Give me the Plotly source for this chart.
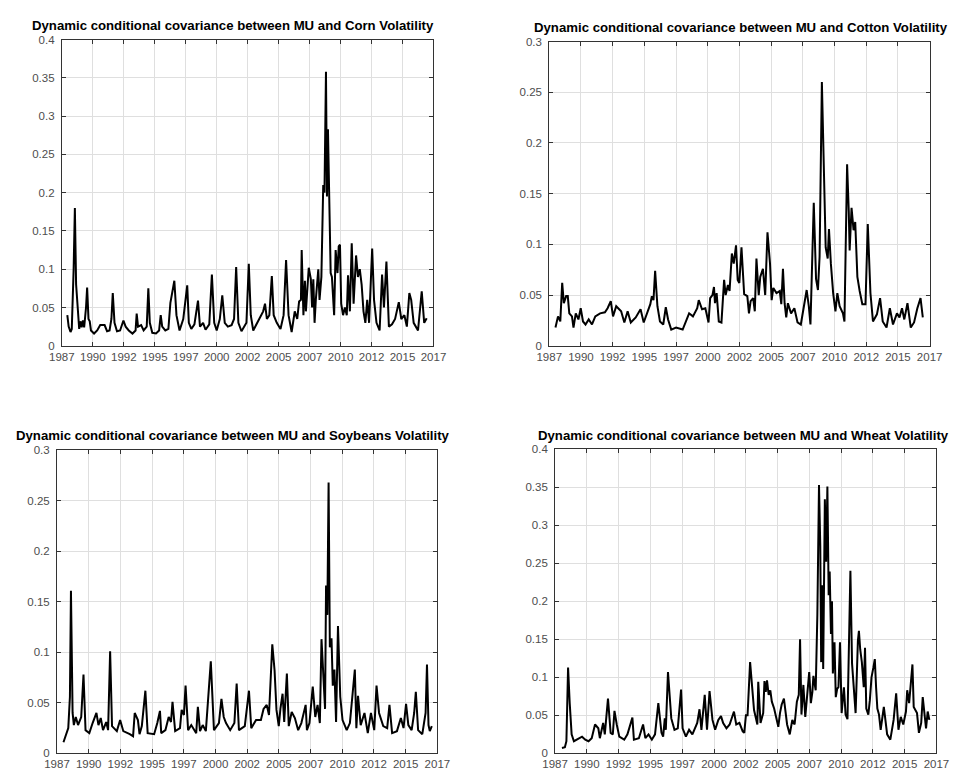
import plotly.graph_objects as go

# ---------------- data (decimal years, covariance values) ----------------
corn_t = [1987.44, 1987.55, 1987.70, 1987.80, 1987.95, 1988.05, 1988.15, 1988.30, 1988.40, 1988.50,
          1988.60, 1988.70, 1988.80, 1988.95, 1989.04, 1989.15, 1989.25, 1989.35, 1989.60, 1989.85,
          1990.10, 1990.45, 1990.65, 1990.85, 1991.00, 1991.11, 1991.25, 1991.45, 1991.70, 1991.97,
          1992.15, 1992.40, 1992.70, 1992.95, 1993.04, 1993.15, 1993.40, 1993.60, 1993.85, 1993.98,
          1994.10, 1994.30, 1994.60, 1994.85, 1994.98, 1995.10, 1995.35, 1995.60, 1995.76, 1996.08,
          1996.25, 1996.50, 1996.80, 1997.12, 1997.25, 1997.45, 1997.70, 1997.99, 1998.15, 1998.40,
          1998.60, 1998.90, 1999.11, 1999.30, 1999.50, 1999.75, 1999.95, 2000.15, 2000.40, 2000.70,
          2000.90, 2001.07, 2001.25, 2001.50, 2001.90, 2002.09, 2002.25, 2002.45, 2002.70, 2002.95,
          2003.25, 2003.40, 2003.55, 2003.75, 2003.95, 2004.10, 2004.35, 2004.65, 2004.90, 2005.10,
          2005.30, 2005.55, 2005.80, 2006.00, 2006.15, 2006.30, 2006.36, 2006.50, 2006.62, 2006.70,
          2006.85, 2006.93, 2007.10, 2007.20, 2007.30, 2007.40, 2007.50, 2007.70, 2007.80, 2007.95,
          2008.10, 2008.20, 2008.32, 2008.40, 2008.48, 2008.60, 2008.70, 2008.80, 2008.98, 2009.10,
          2009.25, 2009.35, 2009.45, 2009.55, 2009.70, 2009.85, 2010.00, 2010.10, 2010.25, 2010.40,
          2010.55, 2010.75, 2010.90, 2011.05, 2011.20, 2011.35, 2011.50, 2011.65, 2011.80, 2012.05,
          2012.20, 2012.40, 2012.65, 2012.85, 2013.00, 2013.20, 2013.40, 2013.65, 2013.90, 2014.20,
          2014.40, 2014.65, 2014.85, 2015.05, 2015.20, 2015.40, 2015.75, 2016.05, 2016.25, 2016.45]
corn_v = [0.040, 0.025, 0.018, 0.022, 0.100, 0.180, 0.080, 0.035, 0.022, 0.032,
          0.024, 0.033, 0.024, 0.050, 0.076, 0.035, 0.032, 0.020, 0.016, 0.020,
          0.027, 0.027, 0.019, 0.020, 0.035, 0.069, 0.030, 0.019, 0.020, 0.033,
          0.025, 0.020, 0.016, 0.020, 0.042, 0.025, 0.027, 0.020, 0.025, 0.075,
          0.030, 0.017, 0.016, 0.020, 0.040, 0.025, 0.020, 0.022, 0.056, 0.085,
          0.040, 0.020, 0.035, 0.079, 0.030, 0.022, 0.028, 0.059, 0.025, 0.030,
          0.021, 0.028, 0.093, 0.030, 0.020, 0.035, 0.066, 0.030, 0.025, 0.027,
          0.035, 0.103, 0.030, 0.019, 0.030, 0.107, 0.040, 0.020, 0.028, 0.035,
          0.045, 0.055, 0.035, 0.040, 0.091, 0.040, 0.030, 0.022, 0.040, 0.112,
          0.040, 0.018, 0.045, 0.035, 0.058, 0.060, 0.125, 0.040, 0.085, 0.045,
          0.095, 0.102, 0.087, 0.050, 0.087, 0.030, 0.060, 0.100, 0.060, 0.090,
          0.210, 0.200, 0.358, 0.195, 0.283, 0.150, 0.095, 0.090, 0.040, 0.125,
          0.095, 0.130, 0.132, 0.055, 0.040, 0.050, 0.040, 0.092, 0.045, 0.134,
          0.055, 0.118, 0.090, 0.100, 0.080, 0.045, 0.030, 0.060, 0.030, 0.127,
          0.060, 0.030, 0.020, 0.093, 0.050, 0.110, 0.025, 0.028, 0.035, 0.057,
          0.035, 0.040, 0.025, 0.069, 0.060, 0.030, 0.020, 0.071, 0.030, 0.036]

cotton_t = [1987.49, 1987.69, 1987.87, 1988.02, 1988.15, 1988.33, 1988.46, 1988.58, 1988.79, 1988.91,
            1989.09, 1989.30, 1989.48, 1989.66, 1989.86, 1990.11, 1990.37, 1990.63, 1991.01, 1991.39,
            1991.60, 1991.85, 1992.03, 1992.28, 1992.67, 1992.92, 1993.18, 1993.43, 1993.82, 1994.20,
            1994.45, 1994.97, 1995.09, 1995.22, 1995.35, 1995.53, 1995.73, 1995.99, 1996.19, 1996.37,
            1996.62, 1997.00, 1997.52, 1997.77, 1998.03, 1998.33, 1998.67, 1998.79, 1999.05, 1999.31,
            1999.56, 1999.69, 1999.87, 1999.99, 2000.07, 2000.20, 2000.37, 2000.58, 2000.79, 2000.91,
            2001.09, 2001.22, 2001.40, 2001.55, 2001.73, 2001.86, 2001.99, 2002.16, 2002.37, 2002.62,
            2002.75, 2002.88, 2003.08, 2003.21, 2003.34, 2003.52, 2003.64, 2003.85, 2004.03, 2004.21,
            2004.41, 2004.54, 2004.67, 2004.92, 2005.18, 2005.30, 2005.43, 2005.56, 2005.69, 2005.82,
            2006.07, 2006.33, 2006.58, 2006.84, 2007.09, 2007.30, 2007.47, 2007.60, 2007.86, 2008.04,
            2008.19, 2008.32, 2008.50, 2008.62, 2008.80, 2008.96, 2009.06, 2009.21, 2009.39, 2009.57,
            2009.72, 2009.90, 2010.16, 2010.28, 2010.49, 2010.62, 2010.69, 2010.84, 2011.00, 2011.13,
            2011.30, 2011.48, 2011.69, 2011.94, 2012.12, 2012.33, 2012.53, 2012.84, 2013.09, 2013.30,
            2013.60, 2013.86, 2014.11, 2014.42, 2014.62, 2014.82, 2015.00, 2015.25, 2015.51, 2015.77,
            2016.03, 2016.28, 2016.46]
cotton_v = [0.018, 0.029, 0.024, 0.062, 0.042, 0.049, 0.049, 0.032, 0.029, 0.018,
            0.032, 0.026, 0.037, 0.024, 0.021, 0.026, 0.021, 0.029, 0.032, 0.033,
            0.037, 0.044, 0.029, 0.039, 0.034, 0.023, 0.034, 0.023, 0.028, 0.036,
            0.023, 0.041, 0.049, 0.045, 0.074, 0.039, 0.024, 0.021, 0.038, 0.026,
            0.016, 0.018, 0.016, 0.024, 0.032, 0.029, 0.037, 0.045, 0.036, 0.037,
            0.023, 0.047, 0.050, 0.058, 0.042, 0.052, 0.024, 0.023, 0.065, 0.050,
            0.060, 0.054, 0.091, 0.081, 0.099, 0.065, 0.062, 0.097, 0.051, 0.049,
            0.032, 0.044, 0.047, 0.034, 0.086, 0.050, 0.068, 0.076, 0.050, 0.112,
            0.081, 0.045, 0.057, 0.052, 0.054, 0.041, 0.076, 0.042, 0.028, 0.042,
            0.032, 0.037, 0.023, 0.021, 0.041, 0.055, 0.039, 0.021, 0.141, 0.066,
            0.055, 0.088, 0.260, 0.191, 0.097, 0.086, 0.115, 0.081, 0.052, 0.034,
            0.052, 0.039, 0.032, 0.024, 0.179, 0.133, 0.094, 0.136, 0.114, 0.122,
            0.068, 0.054, 0.041, 0.041, 0.120, 0.052, 0.024, 0.031, 0.047, 0.024,
            0.018, 0.037, 0.021, 0.032, 0.028, 0.037, 0.026, 0.042, 0.018, 0.023,
            0.037, 0.047, 0.028]

soy_t = [1987.51, 1987.89, 1988.02, 1988.10, 1988.23, 1988.33, 1988.48, 1988.66, 1988.91, 1989.09,
         1989.25, 1989.55, 1989.81, 1990.11, 1990.27, 1990.45, 1990.63, 1990.88, 1991.03, 1991.19,
         1991.34, 1991.72, 1991.98, 1992.23, 1992.74, 1993.00, 1993.13, 1993.38, 1993.51, 1993.69,
         1993.97, 1994.15, 1994.66, 1994.91, 1995.12, 1995.22, 1995.55, 1995.81, 1995.99, 1996.11,
         1996.32, 1996.70, 1996.83, 1997.01, 1997.14, 1997.34, 1997.59, 1997.98, 1998.11, 1998.28,
         1998.49, 1998.74, 1999.13, 1999.38, 1999.77, 1999.97, 2000.15, 2000.33, 2000.66, 2000.99,
         2001.17, 2001.35, 2001.81, 2002.14, 2002.32, 2002.70, 2003.08, 2003.29, 2003.54, 2003.72,
         2003.98, 2004.16, 2004.31, 2004.49, 2004.62, 2004.79, 2004.92, 2005.13, 2005.28, 2005.51,
         2005.76, 2006.02, 2006.27, 2006.61, 2006.71, 2006.91, 2007.17, 2007.37, 2007.55, 2007.73,
         2007.86, 2008.01, 2008.14, 2008.22, 2008.32, 2008.42, 2008.52, 2008.65, 2008.75, 2008.88,
         2009.01, 2009.16, 2009.34, 2009.52, 2009.85, 2010.10, 2010.49, 2010.61, 2010.74, 2010.95,
         2011.25, 2011.51, 2011.76, 2012.02, 2012.20, 2012.40, 2012.73, 2013.04, 2013.22, 2013.43,
         2013.81, 2014.12, 2014.33, 2014.53, 2014.71, 2014.97, 2015.17, 2015.30, 2015.48, 2015.81,
         2016.07, 2016.18, 2016.30, 2016.40, 2016.56]
soy_v = [0.011, 0.025, 0.056, 0.161, 0.040, 0.028, 0.036, 0.028, 0.036, 0.078,
         0.023, 0.020, 0.030, 0.040, 0.028, 0.035, 0.023, 0.031, 0.023, 0.101,
         0.027, 0.022, 0.033, 0.022, 0.019, 0.017, 0.040, 0.033, 0.019, 0.027,
         0.062, 0.020, 0.019, 0.030, 0.042, 0.020, 0.023, 0.036, 0.031, 0.051,
         0.022, 0.025, 0.043, 0.038, 0.067, 0.023, 0.028, 0.020, 0.046, 0.022,
         0.028, 0.022, 0.091, 0.023, 0.030, 0.054, 0.036, 0.030, 0.023, 0.030,
         0.069, 0.023, 0.027, 0.062, 0.025, 0.033, 0.033, 0.044, 0.048, 0.038,
         0.108, 0.082, 0.043, 0.027, 0.044, 0.059, 0.031, 0.079, 0.027, 0.041,
         0.035, 0.023, 0.030, 0.048, 0.023, 0.030, 0.066, 0.036, 0.048, 0.030,
         0.113, 0.075, 0.044, 0.166, 0.137, 0.268, 0.105, 0.114, 0.067, 0.083,
         0.031, 0.126, 0.056, 0.033, 0.023, 0.030, 0.083, 0.025, 0.057, 0.028,
         0.040, 0.020, 0.040, 0.023, 0.067, 0.040, 0.027, 0.025, 0.048, 0.020,
         0.022, 0.035, 0.025, 0.049, 0.028, 0.023, 0.040, 0.061, 0.023, 0.019,
         0.040, 0.088, 0.028, 0.022, 0.027]

wheat_t = [1987.54, 1987.77, 1987.89, 1988.02, 1988.15, 1988.30, 1988.48, 1988.86, 1989.12, 1989.37,
           1989.63, 1989.88, 1990.14, 1990.40, 1990.52, 1990.78, 1990.91, 1991.16, 1991.37, 1991.54,
           1991.67, 1991.85, 1992.05, 1992.44, 1992.69, 1993.08, 1993.20, 1993.59, 1993.92, 1994.10,
           1994.35, 1994.61, 1994.86, 1995.12, 1995.37, 1995.50, 1995.63, 1995.71, 1995.88, 1996.14,
           1996.39, 1996.65, 1996.91, 1997.03, 1997.29, 1997.54, 1997.80, 1998.18, 1998.36, 1998.51,
           1998.77, 1998.95, 1999.15, 1999.38, 1999.59, 1999.84, 2000.05, 2000.22, 2000.48, 2000.73,
           2000.91, 2001.07, 2001.25, 2001.50, 2001.76, 2001.88, 2002.01, 2002.14, 2002.34, 2002.65,
           2002.91, 2002.98, 2003.16, 2003.37, 2003.47, 2003.57, 2003.67, 2003.80, 2003.93, 2004.05,
           2004.23, 2004.39, 2004.56, 2004.69, 2004.82, 2005.00, 2005.15, 2005.25, 2005.46, 2005.66,
           2005.84, 2006.02, 2006.17, 2006.27, 2006.38, 2006.53, 2006.68, 2006.86, 2006.99, 2007.12,
           2007.24, 2007.32, 2007.50, 2007.63, 2007.76, 2007.86, 2007.93, 2008.01, 2008.09, 2008.22,
           2008.32, 2008.42, 2008.52, 2008.60, 2008.70, 2008.78, 2008.85, 2008.98, 2009.08, 2009.19,
           2009.29, 2009.41, 2009.54, 2009.72, 2009.85, 2010.00, 2010.23, 2010.36, 2010.51, 2010.64,
           2010.82, 2010.90, 2011.00, 2011.13, 2011.28, 2011.38, 2011.48, 2011.64, 2011.76, 2011.89,
           2012.04, 2012.15, 2012.25, 2012.35, 2012.48, 2012.61, 2012.86, 2013.12, 2013.37, 2013.63,
           2013.83, 2014.01, 2014.19, 2014.39, 2014.60, 2014.70, 2014.85, 2014.98, 2015.11, 2015.21,
           2015.36, 2015.47, 2015.62, 2015.80, 2015.92, 2016.05, 2016.18, 2016.31, 2016.44]
wheat_v = [0.007, 0.008, 0.016, 0.113, 0.066, 0.025, 0.016, 0.020, 0.022, 0.018,
           0.016, 0.020, 0.038, 0.033, 0.020, 0.040, 0.025, 0.072, 0.027, 0.025,
           0.056, 0.038, 0.022, 0.018, 0.025, 0.047, 0.018, 0.020, 0.038, 0.020,
           0.025, 0.018, 0.025, 0.066, 0.027, 0.022, 0.046, 0.031, 0.107, 0.046,
           0.031, 0.033, 0.084, 0.033, 0.022, 0.031, 0.025, 0.040, 0.058, 0.031,
           0.077, 0.031, 0.082, 0.044, 0.031, 0.044, 0.049, 0.040, 0.033, 0.038,
           0.046, 0.055, 0.038, 0.040, 0.029, 0.027, 0.050, 0.050, 0.120, 0.057,
           0.038, 0.094, 0.040, 0.053, 0.095, 0.081, 0.096, 0.077, 0.083, 0.068,
           0.059, 0.048, 0.035, 0.053, 0.064, 0.072, 0.051, 0.038, 0.025, 0.044,
           0.038, 0.068, 0.077, 0.150, 0.051, 0.090, 0.048, 0.085, 0.107, 0.066,
           0.081, 0.102, 0.083, 0.182, 0.353, 0.273, 0.120, 0.221, 0.111, 0.334,
           0.252, 0.351, 0.208, 0.239, 0.157, 0.200, 0.105, 0.146, 0.074, 0.085,
           0.087, 0.146, 0.053, 0.087, 0.051, 0.045, 0.240, 0.118, 0.081, 0.053,
           0.148, 0.161, 0.137, 0.120, 0.087, 0.139, 0.059, 0.051, 0.070, 0.100,
           0.113, 0.124, 0.087, 0.059, 0.051, 0.031, 0.061, 0.025, 0.018, 0.044,
           0.079, 0.031, 0.048, 0.038, 0.055, 0.083, 0.066, 0.094, 0.117, 0.061,
           0.055, 0.053, 0.027, 0.040, 0.074, 0.053, 0.033, 0.055, 0.044]

tick_years = [1987, 1989.5, 1992, 1994.5, 1997, 1999.5, 2002, 2004.5, 2007, 2009.5, 2012, 2014.5, 2017]
tick_labels = ["1987", "1990", "1992", "1995", "1997", "2000", "2002", "2005", "2007", "2010", "2012", "2015", "2017"]

panels = [
    ("Dynamic conditional covariance between MU and Corn Volatility", corn_t, corn_v, 0.4),
    ("Dynamic conditional covariance between MU and Cotton Volatility", cotton_t, cotton_v, 0.3),
    ("Dynamic conditional covariance between MU and Soybeans Volatility", soy_t, soy_v, 0.3),
    ("Dynamic conditional covariance between MU and Wheat Volatility", wheat_t, wheat_v, 0.4),
]

for name, t, v, _ in panels:
    assert len(t) == len(v), (name, len(t), len(v))

# ---------------- layout (pixel boxes) ----------------
W, H = 958, 776
boxes = [  # left, right, top, bottom in pixels
    (42, 424, 26, 337),
    (543, 934, 28, 337),
    (37, 428, 443, 751),
    (549, 941, 442, 751),
]
title_pos = [(218, 12), (740, 14), (218, 428), (743, 428)]

FONT = "Liberation Sans, Arial, Helvetica, sans-serif"
AX = "#333333"
GRID = "#dfdfdf"
TICKFONT = "#4d4d4d"

fig = go.Figure()
layout = dict(
    width=W, height=H,
    margin=dict(l=0, r=0, t=0, b=0),
    paper_bgcolor="white", plot_bgcolor="white",
    showlegend=False,
    font=dict(family=FONT, size=12, color=TICKFONT),
)
annotations = []
for i, ((title, t, v, ymax), (l, r, tp, bt), (tx, ty)) in enumerate(zip(panels, boxes, title_pos)):
    n = "" if i == 0 else str(i + 1)
    fig.add_trace(go.Scatter(x=t, y=v, mode="lines",
                             line=dict(color="black", width=2),
                             xaxis="x" + n, yaxis="y" + n, hoverinfo="skip"))
    common = dict(showline=True, linecolor=AX, linewidth=1, mirror="ticks",
                  ticks="inside", ticklen=4, tickcolor=AX, tickwidth=1,
                  showgrid=True, gridcolor=GRID, gridwidth=1, zeroline=False,
                  tickfont=dict(family=FONT, size=11.5, color=TICKFONT))
    layout["xaxis" + n] = dict(common, domain=[l / W, r / W], anchor="y" + n,
                               range=[1987, 2017], tickmode="array",
                               tickvals=tick_years, ticktext=tick_labels,
                               ticklabelstandoff=0)
    layout["yaxis" + n] = dict(common, domain=[1 - bt / H, 1 - tp / H], anchor="x" + n,
                               range=[0, ymax], tickmode="linear", tick0=0, dtick=0.05,
                               ticklabelstandoff=4)
    annotations.append(dict(text="<b>" + title + "</b>", x=tx / W, y=1 - ty / H,
                            xref="paper", yref="paper", xanchor="center", yanchor="middle",
                            showarrow=False, font=dict(family=FONT, size=13.2, color="black")))
layout["annotations"] = annotations
fig.update_layout(**layout)
fig.write_html("out.html")
